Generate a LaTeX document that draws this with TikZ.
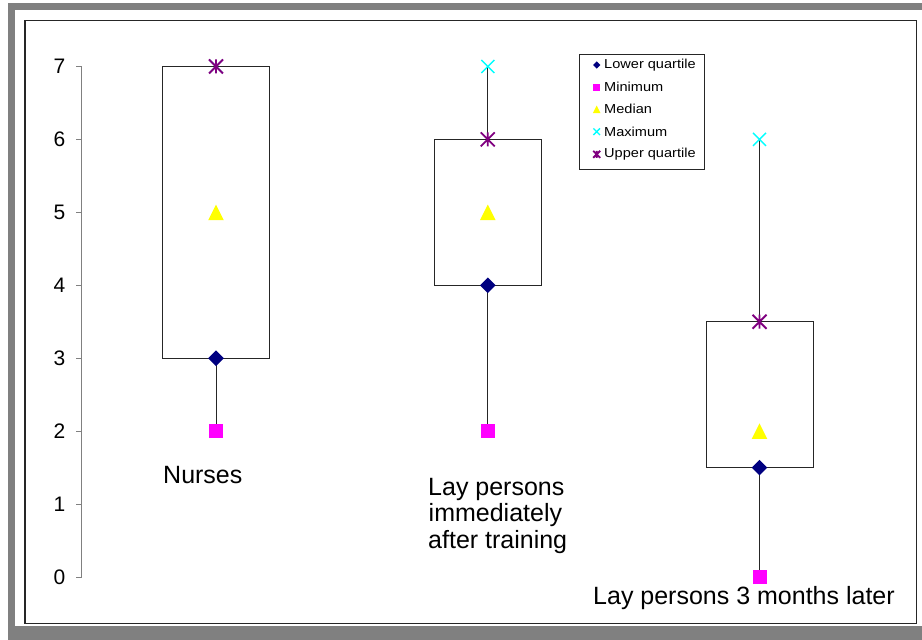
\documentclass[tikz,border=0pt]{standalone}
\usepackage{fontspec}
\setmainfont{Liberation Sans}
\definecolor{framegray}{HTML}{808080}
\definecolor{axisgray}{HTML}{808080}
\definecolor{lqcol}{HTML}{000080}
\definecolor{mincol}{HTML}{FF00FF}
\definecolor{medcol}{HTML}{FFFF00}
\definecolor{maxcol}{HTML}{00FFFF}
\definecolor{uqcol}{HTML}{800080}
\tikzset{
  pics/diam/.style={code={\fill[lqcol] (0,-#1)--(#1,0)--(0,#1)--(-#1,0)--cycle;}},
  pics/sq/.style={code={\fill[mincol] (-#1,-#1) rectangle (#1,#1);}},
  pics/tri/.style={code={\fill[medcol] (0,-#1)--(#1,#1)--(-#1,#1)--cycle;}},
  pics/crs/.style={code={\draw[maxcol,line width=1.4pt] (-#1,-#1)--(#1,#1) (-#1,#1)--(#1,-#1);}},
  pics/star/.style={code={\draw[uqcol,line width=1.8pt] (-#1,-#1)--(#1,#1) (-#1,#1)--(#1,-#1) (0,-#1)--(0,#1);}},
  boxplot/.style={draw=black!85,line width=1pt,fill=white},
  whisker/.style={draw=black!85,line width=1pt},
  ticklab/.style={anchor=east,inner sep=0pt,font=\fontsize{21}{21}\selectfont},
  catlab/.style={anchor=base west,inner sep=0pt,font=\fontsize{25}{26}\selectfont},
  leglab/.style={anchor=west,inner sep=0pt,font=\fontsize{13}{13}\selectfont},
}
\newcommand\py[1]{\fpeval{577-72.93*(#1)}}
\begin{document}
\begin{tikzpicture}[x=1pt,y=-1pt]
\useasboundingbox (0,0) rectangle (922,640);
\clip (0,0) rectangle (922,640);
% frames
\fill[framegray] (8,3) rectangle (950,660);
\fill[white] (15,10) rectangle (940,626);
\draw[line width=1.3pt,black!85] (25,20.5) rectangle (916.7,623.5);
% axis
\draw[axisgray,line width=1pt] (81.5,\py{0}) -- (81.5,\py{7});
\foreach \v in {0,...,7}{
  \draw[axisgray,line width=1pt] (76,\py{\v}) -- (81.5,\py{\v});
  \node[ticklab] (t\v) at (65.5,\py{\v}) {\v};
}
% Nurses
\draw[whisker] (216,\py{2}) -- (216,\py{7});
\draw[boxplot] (162.5,\py{7}) rectangle (269.5,\py{3});
% Lay persons immediately
\draw[whisker] (487.8,\py{2}) -- (487.8,\py{7});
\draw[boxplot] (434.3,\py{6}) rectangle (541.3,\py{4});
% Lay persons 3 months
\draw[whisker] (759.5,\py{0}) -- (759.5,\py{6});
\draw[boxplot] (706,\py{3.5}) rectangle (813,\py{1.5});
% markers group 1
\pic at (216,\py{3}) {diam=7.8};
\pic at (216,\py{2}) {sq=7};
\pic at (216,\py{5}) {tri=7.8};
\pic at (216,\py{7}) {crs=6.5};
\pic at (216,\py{7}) {star=7};
% group 2
\pic at (487.8,\py{4}) {diam=7.8};
\pic at (487.8,\py{2}) {sq=7};
\pic at (487.8,\py{5}) {tri=7.8};
\pic at (487.8,\py{7}) {crs=6.5};
\pic at (487.8,\py{6}) {star=7};
% group 3
\pic at (759.5,\py{1.5}) {diam=7.8};
\pic at (759.5,\py{0}) {sq=7};
\pic at (759.5,\py{2}) {tri=7.8};
\pic at (759.5,\py{6}) {crs=6.5};
\pic at (759.5,\py{3.5}) {star=7};
% category labels
\node[catlab] (c1) at (163,483) {Nurses};
\node[catlab] (c2a) at (428,495) {Lay persons};
\node[catlab] (c2b) at (428.5,521.5) {immediately};
\node[catlab] (c2c) at (428,548) {after training};
\node[catlab] (c3) at (593,604) {Lay persons 3 months later};
% legend
\draw[black!85,line width=1pt] (579.3,54) rectangle (704,169);
\pic at (596.7,65) {diam=3.6};
\node[leglab] (l1) at (604,65) {\scalebox{1.12}[1]{Lower quartile}};
\pic at (596.7,87.3) {sq=3.3};
\node[leglab] (l2) at (604,87.3) {\scalebox{1.12}[1]{Minimum}};
\pic at (596.7,109.3) {tri=3.8};
\node[leglab] (l3) at (604,109.3) {\scalebox{1.12}[1]{Median}};
\pic at (596.7,131.7) {crs=3.3};
\node[leglab] (l4) at (604,131.7) {\scalebox{1.12}[1]{Maximum}};
\pic at (596.7,154.3) {star=3.5};
\node[leglab] (l5) at (604,154.3) {\scalebox{1.12}[1]{Upper quartile}};
\end{tikzpicture}
\end{document}
